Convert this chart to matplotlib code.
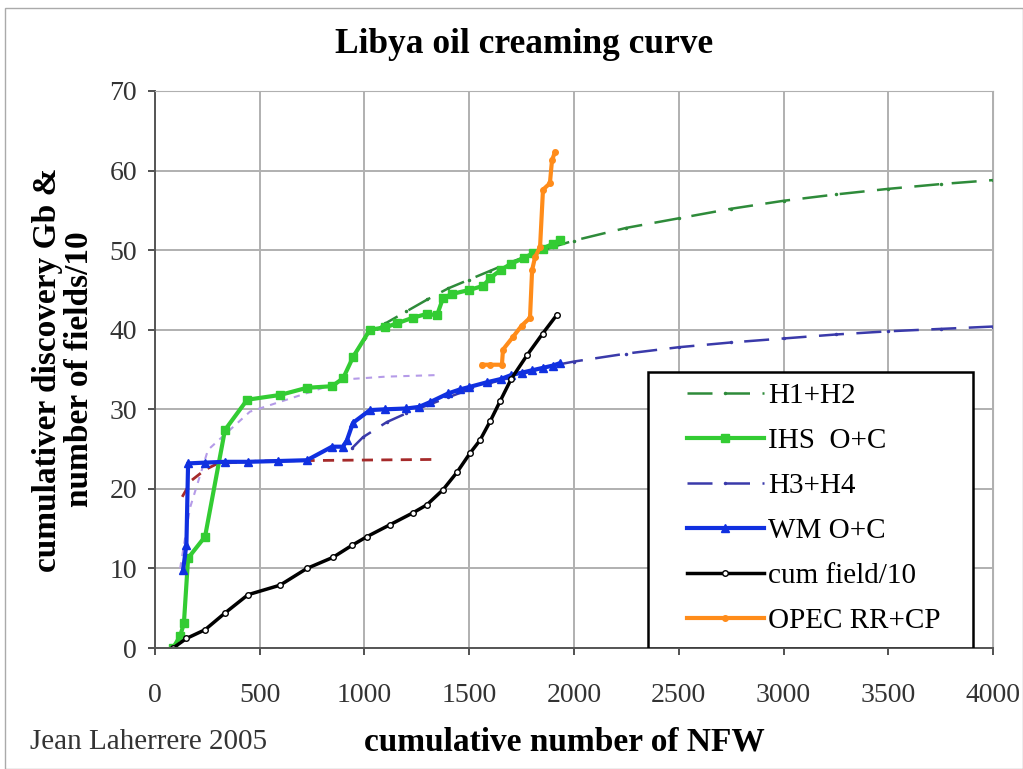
import numpy as np
import matplotlib
matplotlib.use("Agg")
import matplotlib.pyplot as plt
from matplotlib.patches import Rectangle

plt.rcParams['font.family'] = ['Liberation Serif', 'DejaVu Serif']

# IHS O+C
ihs_x = [86, 120, 138, 158, 239, 334, 440, 597, 725, 845, 898, 946, 1026, 1100, 1155, 1230,
         1300, 1346, 1375, 1420, 1500, 1566, 1600, 1650, 1700, 1760, 1804, 1850, 1900, 1933]
ihs_y = [0, 1.5, 3.1, 11.3, 14.0, 27.4, 31.2, 31.8, 32.7, 32.9, 33.9, 36.6, 40.0, 40.3, 40.8, 41.5,
         42.0, 41.8, 44.0, 44.5, 45.0, 45.5, 46.5, 47.5, 48.3, 49.0, 49.6, 50.2, 50.8, 51.3]

# H1+H2 model
h12_x = [940, 1000, 1100, 1200, 1300, 1400, 1500, 1600, 1700, 1800, 1900, 2000,
         2250, 2500, 2750, 3000, 3250, 3500, 3750, 4000]
h12_y = [36.5, 38.8, 40.8, 42.3, 43.8, 45.2, 46.3, 47.4, 48.5, 49.5, 50.4, 51.2,
         52.8, 54.0, 55.2, 56.2, 57.0, 57.7, 58.3, 58.8]

# H3+H4 model
h34_x = [940, 993, 1107, 1200, 1300, 1400, 1500, 1600, 1700, 1800, 1900, 2000,
         2250, 2500, 2750, 3000, 3250, 3500, 3750, 4000]
h34_y = [25.1, 26.5, 28.4, 29.5, 30.5, 31.5, 32.5, 33.3, 34.0, 34.8, 35.5, 36.0,
         37.0, 37.8, 38.4, 38.9, 39.4, 39.8, 40.1, 40.4]

# WM O+C
wm_x = [134, 150, 158, 239, 334, 444, 587, 725, 845, 897, 916, 945, 1026, 1100, 1200, 1260,
        1313, 1400, 1456, 1500, 1585, 1650, 1700, 1750, 1800, 1850, 1900, 1933]
wm_y = [9.8, 13.0, 23.2, 23.3, 23.4, 23.4, 23.5, 23.6, 25.3, 25.3, 26.1, 28.3, 29.9, 30.0, 30.1, 30.3,
        30.9, 32.0, 32.5, 32.8, 33.4, 33.8, 34.3, 34.6, 34.9, 35.2, 35.5, 35.8]

# cum field/10
cum_x = [86, 150, 239, 334, 444, 597, 725, 850, 940, 1012, 1122, 1232, 1298, 1375,
         1442, 1504, 1551, 1600, 1647, 1700, 1776, 1850, 1919]
cum_y = [0, 1.2, 2.3, 4.4, 6.7, 7.9, 10.0, 11.4, 12.9, 14.0, 15.5, 17.0, 18.0, 19.9,
         22.1, 24.5, 26.1, 28.5, 31.0, 33.8, 36.8, 39.5, 41.9]

# OPEC RR+CP
opec_x = [1561, 1600, 1656, 1661, 1709, 1750, 1790, 1800, 1814, 1838, 1852, 1885, 1895, 1909]
opec_y = [35.6, 35.6, 35.6, 37.5, 39.1, 40.5, 41.5, 47.5, 49.1, 50.4, 57.6, 58.4, 61.3, 62.3]

# older models (not in legend)
old_a_x = [120, 167, 253, 453, 930, 1100, 1346]
old_a_y = [10.0, 17.6, 24.9, 29.7, 33.8, 34.1, 34.3]
old_b_x = [130, 176, 239, 300, 500, 900, 1346]
old_b_y = [19.0, 21.1, 22.4, 23.2, 23.5, 23.6, 23.7]

fig = plt.figure(figsize=(10.23, 7.69), dpi=100)
ax = fig.add_axes([0.1515, 0.1573, 0.8192, 0.7244])

ax.plot(old_a_x, old_a_y, color='#b59be8', ls=(0, (3, 3)), lw=1.5, label='_nolegend_')
ax.plot(old_b_x, old_b_y, color='#a52a2a', ls=(0, (4, 3)), lw=2, label='_nolegend_')

ax.plot(h12_x, h12_y, color='#2e8b3a', ls=(0, (10, 5)), lw=1.8, marker='.', ms=3, label='H1+H2')
ax.plot(ihs_x, ihs_y, color='#33cc33', lw=3, marker='s', ms=6, label='IHS  O+C')
ax.plot(h34_x, h34_y, color='#3a3aaa', ls=(0, (10, 5)), lw=1.8, marker='.', ms=3, label='H3+H4')
ax.plot(wm_x, wm_y, color='#1030e0', lw=3, marker='^', ms=6, label='WM O+C')
ax.plot(cum_x, cum_y, color='black', lw=2.5, marker='o', ms=4, mfc='white', mew=1, label='cum field/10')
ax.plot(opec_x, opec_y, color='#ff8c1a', lw=3, marker='o', ms=4, label='OPEC RR+CP')

ax.set_xlim(0, 4000)
ax.set_ylim(0, 70)
ax.set_xticks(np.arange(0, 4001, 500))
ax.set_yticks(np.arange(0, 71, 10))
ax.grid(True, color='#b0b0b0', lw=1.4)
ax.set_axisbelow(True)
for s in ['top', 'right']:
    ax.spines[s].set_color('#b0b0b0')
for s in ['left', 'bottom']:
    ax.spines[s].set_color('#555555')
    ax.spines[s].set_linewidth(1.4)
ax.tick_params(labelsize=20, colors='#333333', length=5, width=1.2)
ax.tick_params(axis='x', pad=20)
ax.tick_params(axis='y', pad=8)

ax.set_xlabel('cumulative number of NFW', fontsize=24, fontweight='bold')
ax.xaxis.set_label_coords(0.489, -0.141)
ax.set_ylabel('cumulativer discovery Gb &\nnumber of fields/10', fontsize=24, fontweight='bold',
              linespacing=1.05)
ax.yaxis.set_label_coords(-0.0716, 0.5)
fig.text(0.512, 0.942, 'Libya oil creaming curve', ha='center', va='center',
         fontsize=25.5, fontweight='bold')
fig.text(0.029, 0.035, 'Jean Laherrere 2005', fontsize=21, color='#333333', va='center')

# legend box drawn separately so the padding matches
ax.add_patch(Rectangle((0.588, 0.0), 0.388, 0.4955, transform=ax.transAxes, facecolor='white',
                       edgecolor='black', lw=1.8, zorder=4))
leg = ax.legend(loc='center', bbox_to_anchor=(0.786, 0.251), fontsize=21, frameon=False,
                handlelength=2.65, labelspacing=0.64, borderpad=0, handletextpad=0.15)
leg.set_zorder(5)

fig.patches.append(Rectangle((0.005, 0.0), 0.995, 0.99, transform=fig.transFigure,
                             fill=False, edgecolor='#aaaaaa', lw=1))

fig.savefig('out.png', dpi=100)
